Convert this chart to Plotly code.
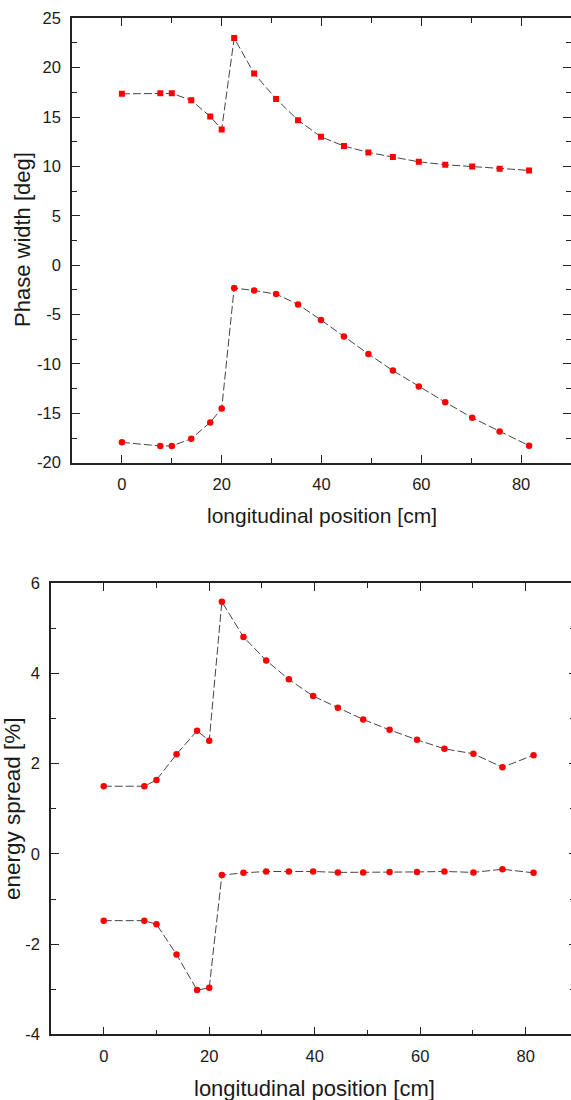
import plotly.graph_objects as go

# ---------------- data ----------------
pos_top = [0, 7.7, 10, 13.9, 17.7, 20, 22.5, 26.5, 30.9, 35.3, 39.9, 44.5, 49.4, 54.3, 59.5, 64.8, 70.2, 75.7, 81.6]
phase_upper = [17.35, 17.4, 17.4, 16.7, 15.05, 13.75, 23.0, 19.4, 16.84, 14.68, 13.0, 12.06, 11.42, 10.95, 10.47, 10.17, 10.0, 9.77, 9.6]
phase_lower = [-17.94, -18.31, -18.31, -17.57, -15.92, -14.51, -2.32, -2.56, -2.93, -3.97, -5.55, -7.23, -8.99, -10.67, -12.28, -13.87, -15.45, -16.83, -18.28]

pos_bot = [0, 7.7, 10, 13.8, 17.7, 20, 22.4, 26.5, 30.8, 35.1, 39.7, 44.4, 49.2, 54.2, 59.4, 64.6, 70.1, 75.6, 81.5]
energy_upper = [1.50, 1.50, 1.64, 2.21, 2.73, 2.51, 5.59, 4.81, 4.29, 3.87, 3.50, 3.24, 2.98, 2.75, 2.53, 2.33, 2.22, 1.92, 2.19]
energy_lower = [-1.48, -1.48, -1.56, -2.23, -3.02, -2.97, -0.47, -0.42, -0.39, -0.39, -0.39, -0.41, -0.41, -0.40, -0.40, -0.39, -0.41, -0.34, -0.42]

x_ticks = [0, 20, 40, 60, 80]
x_ticklabels = ["0", "20", "40", "60", "80"]
y_ticks_top = [-20, -15, -10, -5, 0, 5, 10, 15, 20, 25]
y_ticklabels_top = ["-20", "-15", "-10", "-5", "0", "5", "10", "15", "20", "25"]
y_ticks_bot = [-4, -2, 0, 2, 4, 6]
y_ticklabels_bot = ["-4", "-2", "0", "2", "4", "6"]

x_title = "longitudinal position [cm]"
y_title_top = "Phase width [deg]"
y_title_bot = "energy spread [%]"

# ---------------- style ----------------
W, H = 571, 1100
FONT = "Liberation Sans, Arial, sans-serif"
LINE = dict(color="#444444", width=1, dash="8px,3px")
RED = "#ff0000"

fig = go.Figure()

def add_series(x, y, xa, ya, symbol, size):
    fig.add_trace(go.Scatter(
        x=x, y=y, xaxis=xa, yaxis=ya, mode="lines+markers",
        line=LINE, marker=dict(color=RED, symbol=symbol, size=size, line=dict(width=0)),
        showlegend=False, hoverinfo="x+y"))

add_series(pos_top, phase_upper, "x", "y", "square", 6)
add_series(pos_top, phase_lower, "x", "y", "circle", 6.5)
add_series(pos_bot, energy_upper, "x2", "y2", "circle", 6.5)
add_series(pos_bot, energy_lower, "x2", "y2", "circle", 6.5)
# empty traces so the right-hand tick axes are drawn
fig.add_trace(go.Scatter(x=[None], y=[None], xaxis="x", yaxis="y3", showlegend=False, hoverinfo="skip"))
fig.add_trace(go.Scatter(x=[None], y=[None], xaxis="x2", yaxis="y4", showlegend=False, hoverinfo="skip"))

tickfont = dict(family=FONT, size=16.5, color="#1a1a1a")

def xaxis(domain, anchor, rng):
    return dict(domain=domain, anchor=anchor, range=rng, tickmode="array",
                tickvals=x_ticks, ticktext=x_ticklabels,
                ticks="inside", ticklen=8, tickwidth=1.3, tickcolor="#222",
                minor=dict(ticks="inside", tickmode="linear", dtick=10, tick0=0, ticklen=5, tickwidth=1.3, tickcolor="#222"),
                showline=True, linecolor="#222", linewidth=1.5, mirror="ticks",
                showgrid=False, zeroline=False, tickfont=tickfont, ticklabelstandoff=6)

def yaxis(domain, anchor, rng, tv, tt, mdt):
    return dict(domain=domain, anchor=anchor, range=rng, tickmode="array",
                tickvals=tv, ticktext=tt,
                ticks="inside", ticklen=8, tickwidth=1.3, tickcolor="#222",
                minor=dict(ticks="inside", tickmode="linear", dtick=mdt, tick0=0, ticklen=5, tickwidth=1.3, tickcolor="#222"),
                showline=True, linecolor="#222", linewidth=1.5, mirror=False,
                showgrid=False, zeroline=False, tickfont=tickfont, ticklabelstandoff=6)

def yright(over, anchor, rng, tv, mdt, tl, mtl):
    return dict(overlaying=over, side="right", anchor=anchor, range=rng, tickmode="array",
                tickvals=tv, ticks="inside", ticklen=tl, tickwidth=1.3, tickcolor="#222",
                minor=dict(ticks="inside", tickmode="linear", dtick=mdt, tick0=0, ticklen=mtl, tickwidth=1.3, tickcolor="#222"),
                showline=False, showgrid=False, zeroline=False, showticklabels=False)

top_y0, top_y1 = 1 - 462.7 / H, 1 - 18.3 / H
bot_y0, bot_y1 = 1 - 1034.3 / H, 1 - 583.3 / H

fig.update_layout(
    width=W, height=H, margin=dict(l=0, r=0, t=0, b=0, autoexpand=False),
    paper_bgcolor="white", plot_bgcolor="white",
    font=dict(family=FONT, color="#1a1a1a"),
    xaxis=xaxis([72 / W, 1.0], "y", [-10, 90]),
    yaxis=yaxis([top_y0, top_y1], "x", [-20, 25], y_ticks_top, y_ticklabels_top, 2.5),
    xaxis2=xaxis([51 / W, 1.0], "y2", [-10, 88.6]),
    yaxis2=yaxis([bot_y0, bot_y1], "x2", [-4, 6], y_ticks_bot, y_ticklabels_bot, 1),
    yaxis3=yright("y", "x", [-20, 25], y_ticks_top, 2.5, 8, 5),
    yaxis4=yright("y2", "x2", [-4, 6], y_ticks_bot, 1, 2, 1),
    annotations=[
        dict(text=x_title, xref="paper", yref="paper", x=322 / W, y=1 - 515 / H,
             xanchor="center", yanchor="middle", showarrow=False, font=dict(family=FONT, size=21)),
        dict(text=x_title, xref="paper", yref="paper", x=314.5 / W, y=1 - 1088 / H,
             xanchor="center", yanchor="middle", showarrow=False, font=dict(family=FONT, size=22)),
        dict(text=y_title_top, xref="paper", yref="paper", x=23 / W, y=1 - 240 / H, textangle=-90,
             xanchor="center", yanchor="middle", showarrow=False, font=dict(family=FONT, size=22)),
        dict(text=y_title_bot, xref="paper", yref="paper", x=12 / W, y=1 - 809 / H, textangle=-90,
             xanchor="center", yanchor="middle", showarrow=False, font=dict(family=FONT, size=22.5)),
    ],
)

fig.write_html("out.html", config={"displayModeBar": False},
               post_script="document.body.style.margin='0';document.body.style.overflow='hidden';")
